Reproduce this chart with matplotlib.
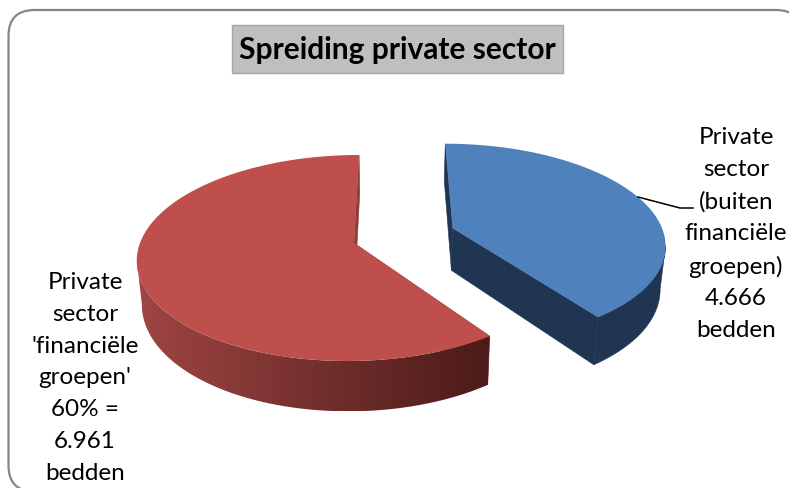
import numpy as np
import matplotlib
matplotlib.use("Agg")
import matplotlib.pyplot as plt
from matplotlib.colors import LinearSegmentedColormap
from matplotlib.patches import FancyBboxPatch, Polygon, Rectangle

# beds per group
beds = [4666, 6961]
names = ["Private\nsector\n(buiten\nfinanciële\ngroepen)\n4.666\nbedden",
         "Private\nsector\n'financiële\ngroepen'\n60% =\n6.961\nbedden"]
title = "Spreiding private sector"

TOP_COLORS = ["#4f81bd", "#be4f4d"]
WALL_COLORS = ["#1f3552", "#8f3d3b"]
RED_WALL = LinearSegmentedColormap.from_list("wall", ["#a04543", "#74302e", "#4c1b19"])

# perspective set-up of the tilted pie, in pixels
VX, VY = 394, -450
CX, CY = 354, 243
RADIUS = 214
TILT = 0.1455
DEPTH = 43
BOTTOM_SHRINK = 0.98
EXPLODE = 0.49


def project(x, y, depth=0.0):
    s = 1 / (1 + TILT * y)
    px = VX + (CX + RADIUS * x - VX) * s
    py = VY + (CY - VY) * s
    if depth:
        px = VX + (px - VX) * BOTTOM_SHRINK
        py = py + depth * s
    return np.column_stack([px, py])


def slice_outline(start, end, dx=0.0, dy=0.0, n=200):
    t = np.radians(np.linspace(start, end, n))
    return np.cos(t) + dx, np.sin(t) + dy


fig = plt.figure(figsize=(7.89, 4.88), dpi=100)
ax = fig.add_axes([0, 0, 1, 1])

# outer chart frame, runs off the right and bottom edges
ax.add_patch(FancyBboxPatch((8.5, 10), 793.5, 481.5, boxstyle="round,pad=0,rounding_size=26",
                            fc="white", ec="#868686", lw=1.6))

ax.add_patch(Rectangle((232.5, 25), 331, 48, fc="#bfbfbf", ec="#a6a6a6", lw=1))
ax.text(397.5, 50, title, ha="center", va="center", fontsize=21.5, fontweight="bold",
        family="Lato", color="black")

total = sum(beds)
sweeps = [360 * b / total for b in beds]

# red slice runs counter-clockwise from twelve o'clock, blue clockwise
spans = [(90 - sweeps[0], 90), (90, 90 + sweeps[1])]
mid = np.radians(90 - sweeps[0] / 2)
offsets = [(EXPLODE * np.cos(mid), EXPLODE * np.sin(mid)), (0.0, 0.0)]

for i, (start, end) in enumerate(spans):
    dx, dy = offsets[i]
    x, y = slice_outline(start, end, dx, dy)
    rim = project(x, y)
    rim_low = project(x, y, DEPTH)
    apex = project(np.array([dx]), np.array([dy]))
    apex_low = project(np.array([dx]), np.array([dy]), DEPTH)

    # cut faces first, top surface hides what should not show
    for j in (0, -1):
        face = np.vstack([apex, rim[j], rim_low[j], apex_low])
        ax.add_patch(Polygon(face, fc=WALL_COLORS[i], ec=WALL_COLORS[i], lw=0.4, zorder=2))

    # only the near part of the curved wall shows, from the widest point of the rim
    if i == 0:
        near = np.arange(0, rim[:, 0].argmax() + 1)
    else:
        near = np.arange(rim[:, 0].argmin(), len(x))
    wall = Polygon(np.vstack([rim[near], rim_low[near][::-1]]), zorder=2,
                   fc=WALL_COLORS[i], ec=WALL_COLORS[i], lw=0.4)
    ax.add_patch(wall)

    # red wall fades to dark from left to right
    if i == 1:
        wall.set_facecolor("none")
        wall.set_edgecolor("none")
        left, right = rim[:, 0].min(), rim[:, 0].max()
        grad = np.linspace(0, 1, 256).reshape(1, -1)
        img = ax.imshow(grad, cmap=RED_WALL, aspect="auto", zorder=2,
                        extent=[left, right, rim_low[:, 1].max(), rim[:, 1].min()])
        img.set_clip_path(wall)

    ax.add_patch(Polygon(np.vstack([apex, rim]), fc=TOP_COLORS[i], ec="none", zorder=3))

ax.plot([638, 680, 693], [197, 208, 208], color="black", lw=1.1, zorder=4)

ax.text(736, 234, names[0], ha="center", va="center", fontsize=17.5, family="Lato",
        linespacing=1.63, color="black", zorder=5)
ax.text(85, 378, names[1], ha="center", va="center", fontsize=17.5, family="Lato",
        linespacing=1.63, color="black", zorder=5)

ax.set_xlim(0, 789)
ax.set_ylim(488, 0)
ax.axis("off")

fig.savefig("out.png", dpi=100)
